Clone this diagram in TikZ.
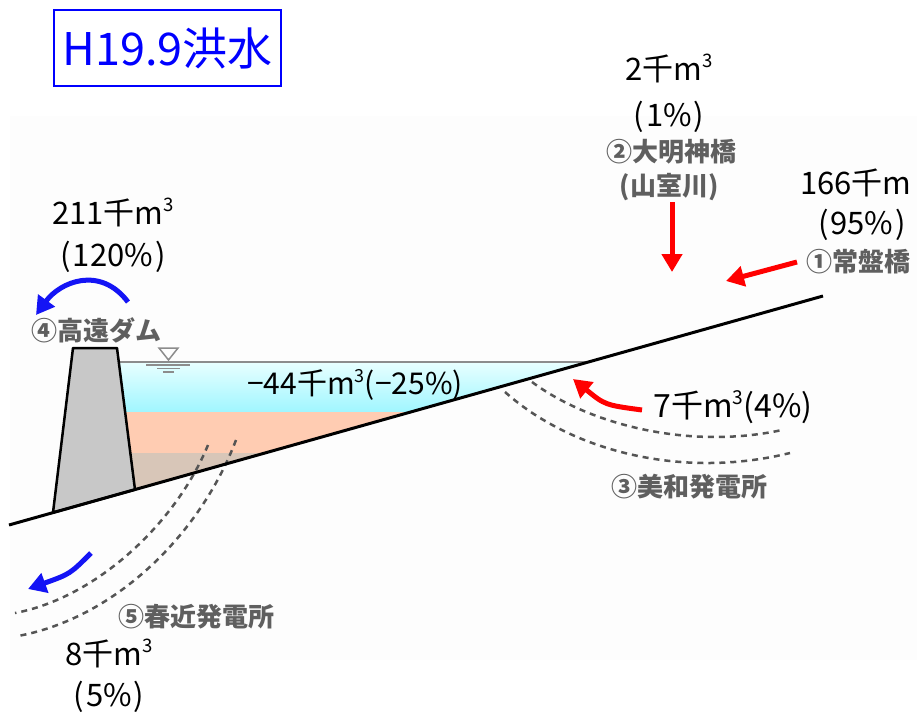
\documentclass[tikz,border=0pt]{standalone}
\usepackage{fontspec}
\usepackage{graphicx}
\setmainfont{Noto Sans CJK JP}
\usetikzlibrary{arrows.meta}
\newcommand\mcube{m\raisebox{.42em}{\scalebox{.6}{3}}}
\newcommand\pgap{\hspace{2pt}}
\definecolor{lbl}{RGB}{95,95,95}
\definecolor{dsh}{RGB}{85,85,85}
\definecolor{bgc}{RGB}{253,253,253}
\definecolor{wtop}{RGB}{232,255,255}
\definecolor{wbot}{RGB}{160,246,255}
\definecolor{sedA}{RGB}{255,204,178}
\definecolor{sedB}{RGB}{216,198,184}
\definecolor{damc}{RGB}{200,200,200}
\definecolor{surf}{RGB}{140,140,140}
\definecolor{flowblue}{RGB}{20,20,245}
\begin{document}
\begin{tikzpicture}[x=1pt,y=-1pt,
  val/.style={text=black, inner sep=0pt, font=\fontsize{31}{31}\selectfont},
  site/.style={text=lbl, inner sep=0pt, font=\fontsize{26}{26}\selectfont\bfseries},
  flowr/.style={draw=red, line width=5pt, -{Triangle[length=18pt,width=20pt]}},
  flowb/.style={draw=flowblue, line width=5pt, -{Triangle[length=18pt,width=20pt]}},
  seep/.style={draw=dsh, line width=2.5pt, dash pattern=on 6pt off 5pt},
  ground/.style={draw=black, line width=3pt}]
\useasboundingbox (0,0) rectangle (917,712);
% faint background panel
\fill[bgc] (10,116) rectangle (917,660);
% title
\node[draw=blue, line width=2pt, text=blue, minimum width=227pt, minimum height=76pt,
  inner sep=0pt, font=\fontsize{45}{45}\selectfont] (title) at (167.5,48) {H19.9洪水};
% reservoir layers
\shade[top color=wtop, bottom color=wbot] (118.8,362) -- (588.5,362) -- (410.7,412) -- (125.2,412) -- cycle;
\fill[sedA] (125.2,412) -- (410.7,412) -- (265,453) -- (130.4,453) -- cycle;
\fill[sedB] (130.4,453) -- (265,453) -- (135,489.6) -- cycle;
\draw[surf, line width=1.5pt] (118.8,362) -- (588.5,362);
% water level mark
\draw[surf, line width=1.5pt] (159,348) -- (178,348) -- (168.5,360) -- cycle;
\draw[surf, line width=1.5pt] (146,365) -- (190,365);
\draw[surf, line width=1.5pt] (157,368.5) -- (180,368.5);
\draw[surf, line width=1.5pt] (163,372) -- (174,372);
% seepage paths
\draw[seep] (208,445) .. controls (175,525) and (95,598) .. (15,613);
\draw[seep] (236,440) .. controls (200,535) and (115,618) .. (18,636);
\draw[seep] (505,392) .. controls (570,450) and (680,480) .. (790,453);
\draw[seep] (532,382) .. controls (590,425) and (690,450) .. (782,430);
% dam
\draw[fill=damc, line width=2.5pt, line join=round] (73,348) -- (117,348) -- (135,489.6) -- (53,512.6) -- cycle;
% ground
\coordinate (gL) at (9,525);
\coordinate (gR) at (823,296);
\draw[ground] (gL) -- (gR);
% labels and flows
\node[val] (q4) at (113,212) {211千\mcube};
\node[val] (p4) at (113,257) {(\pgap120\%\pgap)};
\node[site] (s4) at (96,330) {④高遠ダム};
\coordinate (a4s) at (128,302);
\coordinate (a4e) at (36,315);
\draw[flowb] (a4s) .. controls (100,265) and (60,282) .. (a4e);

\node[font=\fontsize{30}{30}\selectfont, inner sep=0pt] (dv) at (355,385) {−44千\mcube(−25\%)};

\node[val] (q2) at (669,68) {2千\mcube};
\node[val] (p2) at (669,117) {(\pgap1\%\pgap)};
\node[site] (s2) at (671,152) {②大明神橋};
\node[site] (r2) at (669,187) {(山室川)};
\coordinate (a2s) at (672,202);
\coordinate (a2e) at (672,272);
\draw[flowr] (a2s) -- (a2e);

\node[val, anchor=west] (q1) at (800,183) {166千m};
\node[val] (p1) at (862,225) {(\pgap95\%\pgap)};
\node[site] (s1) at (858,262) {①常盤橋};
\coordinate (a1s) at (797,262);
\coordinate (a1e) at (726,281);
\draw[flowr] (a1s) -- (a1e);

\node[val, font=\fontsize{32}{32}\selectfont] (q3) at (733,407) {7千\mcube(4\%)};
\coordinate (a3s) at (642,410);
\coordinate (a3e) at (573,379);
\draw[flowr] (a3s) .. controls (605,405) .. (a3e);
\node[site] (s3) at (689,487) {③美和発電所};

\node[site] (s5) at (196,617) {⑤春近発電所};
\coordinate (a5s) at (91,553);
\coordinate (a5e) at (28,589);
\draw[flowb] (a5s) .. controls (70,574) .. (a5e);
\node[val] (q5) at (109,653) {8千\mcube};
\node[val] (p5) at (109,697) {(\pgap5\%\pgap)};
\end{tikzpicture}
\end{document}
